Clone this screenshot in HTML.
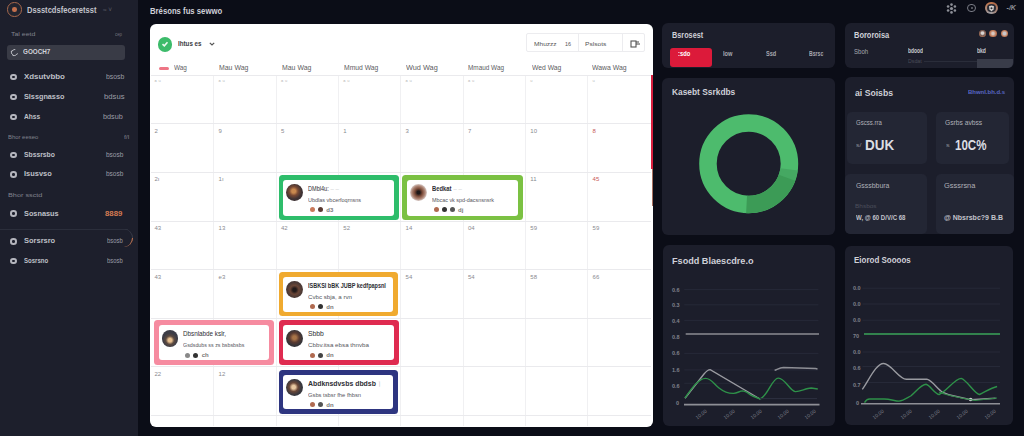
<!DOCTYPE html>
<html><head><meta charset="utf-8">
<style>
*{margin:0;padding:0;box-sizing:border-box}
html,body{width:1024px;height:436px;overflow:hidden;background:#0b0d17;font-family:"Liberation Sans",sans-serif;position:relative}
.a{position:absolute}
.t{position:absolute;white-space:nowrap;line-height:10px;height:10px;transform-origin:0 50%;display:inline-block}
</style></head><body>
<div class="a" style="left:0.0px;top:0.0px;width:138.0px;height:436.0px;background:#1d1f2c;border-radius:0px;"></div>
<div class="a" style="left:7.2px;top:2.4px;width:14.4px;height:14.4px;border-radius:50%;background:#22242f;border:1.3px solid #a8684c;box-sizing:border-box"></div>
<div class="a" style="left:12.1px;top:7.3px;width:4.6px;height:4.6px;border-radius:50%;background:#c26f4c;"></div>
<span id="t0" class="t" style="left:27.3px;top:4.8px;font-size:8.5px;color:#c2c3cb;font-weight:bold;transform:scaleX(0.891);">Dssstcdsfeceretsst</span>
<span id="t1" class="t" style="left:103.0px;top:4.6px;font-size:6.5px;color:#5a5c66;font-weight:normal;">≈ ˅</span>
<span id="t2" class="t" style="left:11.2px;top:29.0px;font-size:6px;color:#80828c;font-weight:normal;transform:scaleX(1.162);">Tal eetd</span>
<span id="t3" class="t" style="left:114.8px;top:29.0px;font-size:6px;color:#70727c;font-weight:normal;transform:scaleX(0.720);">cep</span>
<div class="a" style="left:6.7px;top:45.0px;width:118.8px;height:14.7px;background:#393b46;border-radius:3px;"></div>
<div class="a" style="left:10.8px;top:48.8px;width:7.2px;height:7.2px;border-radius:50%;border:1.4px solid #b8b9c0;border-right-color:transparent;transform:rotate(-30deg)"></div>
<span id="t4" class="t" style="left:23.0px;top:47.3px;font-size:7px;color:#d2d3da;font-weight:bold;transform:scaleX(0.900);">GOOCH7</span>
<div class="a" style="left:10.4px;top:73.6px;width:6.6px;height:6.6px;border-radius:50%;border:2.1px solid #b4b5bd"></div>
<span id="t5" class="t" style="left:23.5px;top:71.9px;font-size:7px;color:#bfc0c8;font-weight:bold;transform:scaleX(1.131);">Xdsutvbbo</span>
<span id="t6" class="t" style="left:106.0px;top:71.9px;font-size:6.5px;color:#9a9ca5;font-weight:normal;transform:scaleX(1.059);">bsosb</span>
<div class="a" style="left:10.4px;top:93.9px;width:6.6px;height:6.6px;border-radius:50%;border:2.1px solid #b4b5bd"></div>
<span id="t7" class="t" style="left:23.5px;top:92.2px;font-size:7px;color:#bfc0c8;font-weight:bold;transform:scaleX(1.038);">Slssgnasso</span>
<span id="t8" class="t" style="left:103.5px;top:92.2px;font-size:6.5px;color:#9a9ca5;font-weight:normal;transform:scaleX(1.182);">bdsus</span>
<div class="a" style="left:10.4px;top:113.7px;width:6.6px;height:6.6px;border-radius:50%;border:2.1px solid #b4b5bd"></div>
<span id="t9" class="t" style="left:23.5px;top:112.0px;font-size:7px;color:#bfc0c8;font-weight:bold;transform:scaleX(0.941);">Ahss</span>
<span id="t10" class="t" style="left:103.0px;top:112.0px;font-size:6.5px;color:#9a9ca5;font-weight:normal;transform:scaleX(1.111);">bdsub</span>
<span id="t11" class="t" style="left:8.0px;top:131.6px;font-size:6px;color:#80828c;font-weight:normal;transform:scaleX(0.984);">Bhor eeseo</span>
<span id="t12" class="t" style="left:124.4px;top:131.6px;font-size:6px;color:#80828c;font-weight:normal;transform:scaleX(1.120);">f/l</span>
<div class="a" style="left:10.4px;top:151.7px;width:6.6px;height:6.6px;border-radius:50%;border:2.1px solid #b4b5bd"></div>
<span id="t13" class="t" style="left:23.5px;top:150.0px;font-size:7px;color:#bfc0c8;font-weight:bold;transform:scaleX(0.969);">Sbssrsbo</span>
<span id="t14" class="t" style="left:106.0px;top:150.0px;font-size:6.5px;color:#9a9ca5;font-weight:normal;">bsosb</span>
<div class="a" style="left:10.4px;top:171.1px;width:6.6px;height:6.6px;border-radius:50%;border:2.1px solid #b4b5bd"></div>
<span id="t15" class="t" style="left:23.5px;top:169.4px;font-size:7px;color:#bfc0c8;font-weight:bold;transform:scaleX(1.065);">Isusvso</span>
<span id="t16" class="t" style="left:106.0px;top:169.4px;font-size:6.5px;color:#9a9ca5;font-weight:normal;">bsosb</span>
<span id="t17" class="t" style="left:8.0px;top:190.3px;font-size:6px;color:#80828c;font-weight:normal;transform:scaleX(1.214);">Bhor ssctd</span>
<div class="a" style="left:10.4px;top:210.3px;width:6.6px;height:6.6px;border-radius:50%;border:2.1px solid #b4b5bd"></div>
<span id="t18" class="t" style="left:23.5px;top:208.6px;font-size:7px;color:#bfc0c8;font-weight:bold;transform:scaleX(1.045);">Sosnasus</span>
<span id="t19" class="t" style="left:105.0px;top:208.6px;font-size:6.5px;color:#d47a52;font-weight:bold;transform:scaleX(1.200);">8889</span>
<div class="a" style="left:0.0px;top:229.0px;width:128.0px;height:1.0px;background:#2b2e3b;border-radius:0px;"></div>
<div class="a" style="left:122px;top:229px;width:11px;height:18px;border-right:1.3px solid #3a3d4a;border-bottom:0;border-radius:0 9px 9px 0"></div>
<div class="a" style="left:122px;top:229px;width:11px;height:18px;border-right:1.3px solid #c8744c;border-radius:0 9px 9px 0;clip-path:inset(50% 0 0 0)"></div>
<div class="a" style="left:10.4px;top:238.1px;width:6.6px;height:6.6px;border-radius:50%;border:2.1px solid #b4b5bd"></div>
<span id="t20" class="t" style="left:23.5px;top:236.4px;font-size:7px;color:#bfc0c8;font-weight:bold;transform:scaleX(1.069);">Sorsrsro</span>
<span id="t21" class="t" style="left:106.6px;top:236.4px;font-size:6.5px;color:#9a9ca5;font-weight:normal;transform:scaleX(0.906);">bsosb</span>
<div class="a" style="left:10.4px;top:257.6px;width:6.6px;height:6.6px;border-radius:50%;border:2.1px solid #b4b5bd"></div>
<span id="t22" class="t" style="left:23.5px;top:255.9px;font-size:7px;color:#bfc0c8;font-weight:bold;transform:scaleX(0.864);">Sosrsno</span>
<span id="t23" class="t" style="left:106.6px;top:255.9px;font-size:6.5px;color:#9a9ca5;font-weight:normal;transform:scaleX(0.906);">bsosb</span>
<span id="t24" class="t" style="left:150.1px;top:5.6px;font-size:8.5px;color:#cfd0d7;font-weight:bold;transform:scaleX(0.909);">Brésons fus sewwo</span>
<svg class="a" style="left:946px;top:2.5px" width="11" height="11" viewBox="0 0 11 11"><g fill="#8e9098"><circle cx="5.5" cy="5.5" r="1.6"/><circle cx="5.5" cy="1.6" r="1.3"/><circle cx="5.5" cy="9.4" r="1.3"/><circle cx="2.1" cy="3.5" r="1.3"/><circle cx="8.9" cy="3.5" r="1.3"/><circle cx="2.1" cy="7.5" r="1.3"/><circle cx="8.9" cy="7.5" r="1.3"/></g></svg>
<div class="a" style="left:967.0px;top:3.7px;width:8.6px;height:8.6px;border-radius:50%;background:transparent;border:1.3px solid #7a7c86;box-sizing:border-box"></div>
<div class="a" style="left:970.5px;top:6.7px;width:2.2px;height:2.2px;border-radius:50%;background:#6a6c76;"></div>
<div class="a" style="left:985.4px;top:1.7px;width:12.6px;height:12.6px;border-radius:50%;background:conic-gradient(from 200deg,#9c9ca2,#c47a52 120deg,#b06a48 200deg,#9c9ca2 360deg);"></div>
<div class="a" style="left:987.3px;top:3.6px;width:8.8px;height:8.8px;border-radius:50%;background:#2c2d36;"></div>
<svg class="a" style="left:988.2px;top:4.6px" width="7" height="7" viewBox="0 0 7 7"><path d="M1 1.2 L3.5 0.6 L6 1.2 L5.6 4.2 L3.5 6.4 L1.4 4.2 Z" fill="#d6d3d0"/><circle cx="3.5" cy="3.2" r="1" fill="#2c2d36"/></svg>
<span id="t25" class="t" style="left:1006.6px;top:3.3px;font-size:7px;color:#8e9098;font-weight:bold;font-style:italic;">-/K</span>
<div class="a" style="left:149.5px;top:24.0px;width:503.8px;height:403.0px;background:#ffffff;border-radius:6px;"></div>
<div class="a" style="left:158.1px;top:37.2px;width:14.4px;height:14.4px;border-radius:50%;background:#3cbb6a;"></div>
<svg class="a" style="left:161.3px;top:40.4px" width="8" height="8" viewBox="0 0 8 8"><path d="M1.5 4.2 L3.3 5.8 L6.5 2.3" stroke="#ecf9f0" stroke-width="1.6" fill="none"/></svg>
<span id="t26" class="t" style="left:177.7px;top:39.4px;font-size:8px;color:#3b3b40;font-weight:bold;transform:scaleX(0.777);">Ihtus es</span>
<svg class="a" style="left:208.5px;top:42px" width="6" height="4" viewBox="0 0 6 4"><path d="M0.8 0.8 L3 3 L5.2 0.8" stroke="#555" stroke-width="1.2" fill="none"/></svg>
<div class="a" style="left:526px;top:33.2px;width:118.6px;height:18.8px;border:1px solid #ececef;border-radius:2px"></div>
<div class="a" style="left:578.0px;top:33.2px;width:1.0px;height:18.8px;background:#ececef;border-radius:0px;"></div>
<div class="a" style="left:621.5px;top:33.2px;width:1.0px;height:18.8px;background:#ececef;border-radius:0px;"></div>
<span id="t27" class="t" style="left:533.6px;top:38.5px;font-size:6px;color:#555;font-weight:normal;transform:scaleX(1.095);">Mhuzzz</span>
<span id="t28" class="t" style="left:564.7px;top:38.5px;font-size:6px;color:#555;font-weight:normal;transform:scaleX(0.900);">16</span>
<span id="t29" class="t" style="left:585.0px;top:38.5px;font-size:6px;color:#555;font-weight:normal;transform:scaleX(1.105);">Pslsots</span>
<svg class="a" style="left:629.5px;top:39.5px" width="11" height="8" viewBox="0 0 11 8"><g stroke="#555" stroke-width="1.1" fill="none"><rect x="1" y="1" width="5" height="6"/><line x1="6" y1="4" x2="10" y2="4"/><line x1="6" y1="2" x2="9" y2="2"/></g></svg>
<div class="a" style="left:213.1px;top:75.2px;width:1.0px;height:350.8px;background:#f0f0f2;border-radius:0px;"></div>
<div class="a" style="left:275.5px;top:75.2px;width:1.0px;height:350.8px;background:#f0f0f2;border-radius:0px;"></div>
<div class="a" style="left:337.8px;top:75.2px;width:1.0px;height:350.8px;background:#f0f0f2;border-radius:0px;"></div>
<div class="a" style="left:400.1px;top:75.2px;width:1.0px;height:350.8px;background:#f0f0f2;border-radius:0px;"></div>
<div class="a" style="left:462.5px;top:75.2px;width:1.0px;height:350.8px;background:#f0f0f2;border-radius:0px;"></div>
<div class="a" style="left:524.8px;top:75.2px;width:1.0px;height:350.8px;background:#f0f0f2;border-radius:0px;"></div>
<div class="a" style="left:587.1px;top:75.2px;width:1.0px;height:350.8px;background:#f0f0f2;border-radius:0px;"></div>
<div class="a" style="left:150.5px;top:74.7px;width:500.5px;height:1.0px;background:#eaeaed;border-radius:0px;"></div>
<div class="a" style="left:150.5px;top:123.3px;width:500.5px;height:1.0px;background:#eaeaed;border-radius:0px;"></div>
<div class="a" style="left:150.5px;top:171.9px;width:500.5px;height:1.0px;background:#eaeaed;border-radius:0px;"></div>
<div class="a" style="left:150.5px;top:220.5px;width:500.5px;height:1.0px;background:#eaeaed;border-radius:0px;"></div>
<div class="a" style="left:150.5px;top:269.1px;width:500.5px;height:1.0px;background:#eaeaed;border-radius:0px;"></div>
<div class="a" style="left:150.5px;top:317.7px;width:500.5px;height:1.0px;background:#eaeaed;border-radius:0px;"></div>
<div class="a" style="left:150.5px;top:366.3px;width:500.5px;height:1.0px;background:#eaeaed;border-radius:0px;"></div>
<div class="a" style="left:150.5px;top:414.9px;width:500.5px;height:1.0px;background:#eaeaed;border-radius:0px;"></div>
<div class="a" style="left:159.0px;top:67.0px;width:10.0px;height:3.0px;background:#ee7585;border-radius:1.5px;"></div>
<span id="t30" class="t" style="left:174.3px;top:63.4px;font-size:6.5px;color:#5c5c62;font-weight:normal;transform:scaleX(0.985);">Wag</span>
<span id="t31" class="t" style="left:219.0px;top:63.4px;font-size:6.5px;color:#5c5c62;font-weight:normal;transform:scaleX(1.064);">Mau Wag</span>
<span id="t32" class="t" style="left:281.6px;top:63.4px;font-size:6.5px;color:#5c5c62;font-weight:normal;transform:scaleX(1.064);">Mau Wag</span>
<span id="t33" class="t" style="left:343.6px;top:63.4px;font-size:6.5px;color:#5c5c62;font-weight:normal;transform:scaleX(1.039);">Mmud Wag</span>
<span id="t34" class="t" style="left:406.0px;top:63.4px;font-size:6.5px;color:#5c5c62;font-weight:normal;transform:scaleX(1.125);">Wud Wag</span>
<span id="t35" class="t" style="left:468.0px;top:63.4px;font-size:6.5px;color:#5c5c62;font-weight:normal;transform:scaleX(0.984);">Mmaud Wag</span>
<span id="t36" class="t" style="left:531.8px;top:63.4px;font-size:6.5px;color:#5c5c62;font-weight:normal;transform:scaleX(1.043);">Wed Wag</span>
<span id="t37" class="t" style="left:592.3px;top:63.4px;font-size:6.5px;color:#5c5c62;font-weight:normal;transform:scaleX(1.058);">Wawa Wag</span>
<span id="t38" class="t" style="left:154.5px;top:77.2px;font-size:6px;color:#bbb;font-weight:normal;">ᵃ ᵘ</span>
<span id="t39" class="t" style="left:218.6px;top:77.2px;font-size:6px;color:#bbb;font-weight:normal;">ᵃ ᵘ</span>
<span id="t40" class="t" style="left:281.0px;top:77.2px;font-size:6px;color:#bbb;font-weight:normal;">ᵃ ᵘ</span>
<span id="t41" class="t" style="left:343.3px;top:77.2px;font-size:6px;color:#bbb;font-weight:normal;">ᵃ ᵘ</span>
<span id="t42" class="t" style="left:405.6px;top:77.2px;font-size:6px;color:#bbb;font-weight:normal;">ᵃ ᵘ</span>
<span id="t43" class="t" style="left:468.0px;top:77.2px;font-size:6px;color:#bbb;font-weight:normal;">ᵃ ᵘ</span>
<span id="t44" class="t" style="left:530.3px;top:77.2px;font-size:6px;color:#bbb;font-weight:normal;">ᵘ</span>
<span id="t45" class="t" style="left:592.6px;top:77.2px;font-size:6px;color:#bbb;font-weight:normal;">ᵘ</span>
<span id="t46" class="t" style="left:154.5px;top:125.8px;font-size:6px;color:#8a8a90;font-weight:normal;">2</span>
<span id="t47" class="t" style="left:218.6px;top:125.8px;font-size:6px;color:#8a8a90;font-weight:normal;">9</span>
<span id="t48" class="t" style="left:281.0px;top:125.8px;font-size:6px;color:#8a8a90;font-weight:normal;">5</span>
<span id="t49" class="t" style="left:343.3px;top:125.8px;font-size:6px;color:#8a8a90;font-weight:normal;">1</span>
<span id="t50" class="t" style="left:405.6px;top:125.8px;font-size:6px;color:#8a8a90;font-weight:normal;">3</span>
<span id="t51" class="t" style="left:468.0px;top:125.8px;font-size:6px;color:#8a8a90;font-weight:normal;">7</span>
<span id="t52" class="t" style="left:530.3px;top:125.8px;font-size:6px;color:#8a8a90;font-weight:normal;">10</span>
<span id="t53" class="t" style="left:592.6px;top:125.8px;font-size:6px;color:#c85a5a;font-weight:normal;">8</span>
<span id="t54" class="t" style="left:154.5px;top:174.4px;font-size:6px;color:#8a8a90;font-weight:normal;">2ı</span>
<span id="t55" class="t" style="left:218.6px;top:174.4px;font-size:6px;color:#8a8a90;font-weight:normal;">1ı</span>
<span id="t56" class="t" style="left:530.3px;top:174.4px;font-size:6px;color:#8a8a90;font-weight:normal;">11</span>
<span id="t57" class="t" style="left:592.6px;top:174.4px;font-size:6px;color:#c85a5a;font-weight:normal;">45</span>
<span id="t58" class="t" style="left:154.5px;top:223.0px;font-size:6px;color:#8a8a90;font-weight:normal;">43</span>
<span id="t59" class="t" style="left:218.6px;top:223.0px;font-size:6px;color:#8a8a90;font-weight:normal;">13</span>
<span id="t60" class="t" style="left:281.0px;top:223.0px;font-size:6px;color:#8a8a90;font-weight:normal;">42</span>
<span id="t61" class="t" style="left:343.3px;top:223.0px;font-size:6px;color:#8a8a90;font-weight:normal;">52</span>
<span id="t62" class="t" style="left:405.6px;top:223.0px;font-size:6px;color:#8a8a90;font-weight:normal;">14</span>
<span id="t63" class="t" style="left:468.0px;top:223.0px;font-size:6px;color:#8a8a90;font-weight:normal;">04</span>
<span id="t64" class="t" style="left:530.3px;top:223.0px;font-size:6px;color:#8a8a90;font-weight:normal;">59</span>
<span id="t65" class="t" style="left:592.6px;top:223.0px;font-size:6px;color:#8a8a90;font-weight:normal;">59</span>
<span id="t66" class="t" style="left:154.5px;top:271.6px;font-size:6px;color:#8a8a90;font-weight:normal;">43</span>
<span id="t67" class="t" style="left:218.6px;top:271.6px;font-size:6px;color:#8a8a90;font-weight:normal;">e3</span>
<span id="t68" class="t" style="left:405.6px;top:271.6px;font-size:6px;color:#8a8a90;font-weight:normal;">54</span>
<span id="t69" class="t" style="left:468.0px;top:271.6px;font-size:6px;color:#8a8a90;font-weight:normal;">54</span>
<span id="t70" class="t" style="left:530.3px;top:271.6px;font-size:6px;color:#8a8a90;font-weight:normal;">58</span>
<span id="t71" class="t" style="left:592.6px;top:271.6px;font-size:6px;color:#8a8a90;font-weight:normal;">66</span>
<span id="t72" class="t" style="left:154.5px;top:368.8px;font-size:6px;color:#8a8a90;font-weight:normal;">22</span>
<span id="t73" class="t" style="left:218.6px;top:368.8px;font-size:6px;color:#8a8a90;font-weight:normal;">12</span>
<div class="a" style="left:651.3px;top:75.2px;width:2.2px;height:93.8px;background:#d81f3f;border-radius:0px;"></div>
<div class="a" style="left:652.2px;top:169.0px;width:1.2px;height:37.0px;background:#a87060;border-radius:0px;"></div>
<div class="a" style="left:278.5px;top:174.6px;width:120.1px;height:45.6px;background:#2ebd6b;border-radius:3.5px;"></div>
<div class="a" style="left:283.3px;top:179.7px;width:110.5px;height:36.0px;background:#ffffff;border-radius:3px;"></div>
<div class="a" style="left:286.3px;top:184.3px;width:16.8px;height:16.8px;border-radius:50%;background:radial-gradient(circle at 45% 42%,#c8884e 0 14%,#7a4a34 32%,#3e3234 58%);"></div>
<span id="t74" class="t" style="left:307.8px;top:183.6px;font-size:7px;color:#2e2e34;font-weight:normal;transform:scaleX(0.796);">DMbl4u:</span>
<span id="t75" class="t" style="left:330.5px;top:183.6px;font-size:6px;color:#c4c4c8;font-weight:normal;"> – –</span>
<span id="t76" class="t" style="left:307.8px;top:194.6px;font-size:6px;color:#55555c;font-weight:normal;transform:scaleX(0.914);">Ubdlas vbcerfoqrnsns</span>
<div class="a" style="left:309.7px;top:207.0px;width:5.2px;height:5.2px;border-radius:50%;background:#c9795a;"></div>
<div class="a" style="left:317.7px;top:207.0px;width:5.2px;height:5.2px;border-radius:50%;background:#5a3a32;"></div>
<span id="t77" class="t" style="left:326.3px;top:204.6px;font-size:6px;color:#777;font-weight:bold;">d3</span>
<div class="a" style="left:402.3px;top:174.6px;width:120.7px;height:45.7px;background:#7bc143;border-radius:3.5px;"></div>
<div class="a" style="left:407.1px;top:179.7px;width:111.1px;height:36.1px;background:#ffffff;border-radius:3px;"></div>
<div class="a" style="left:410.1px;top:184.3px;width:16.8px;height:16.8px;border-radius:50%;background:radial-gradient(circle at 50% 50%,#1e1818 0 12%,#7a4a38 32%,#b08878 55%,#dcd2d0 72%);"></div>
<span id="t78" class="t" style="left:431.6px;top:183.6px;font-size:7px;color:#2e2e34;font-weight:bold;transform:scaleX(0.833);">Bedkat</span>
<span id="t79" class="t" style="left:453.6px;top:183.6px;font-size:6px;color:#c4c4c8;font-weight:normal;"> – –</span>
<span id="t80" class="t" style="left:431.6px;top:194.6px;font-size:6px;color:#55555c;font-weight:normal;transform:scaleX(0.899);">Mbcac vk spd-dacsnsnsrk</span>
<div class="a" style="left:433.5px;top:207.0px;width:5.2px;height:5.2px;border-radius:50%;background:#b06a50;"></div>
<div class="a" style="left:441.5px;top:207.0px;width:5.2px;height:5.2px;border-radius:50%;background:#333;"></div>
<div class="a" style="left:449.5px;top:207.0px;width:5.2px;height:5.2px;border-radius:50%;background:#555;"></div>
<span id="t81" class="t" style="left:458.1px;top:204.6px;font-size:6px;color:#777;font-weight:bold;">dj</span>
<div class="a" style="left:278.5px;top:271.6px;width:119.5px;height:44.7px;background:#f0aa2f;border-radius:3.5px;"></div>
<div class="a" style="left:283.3px;top:276.7px;width:109.9px;height:35.1px;background:#ffffff;border-radius:3px;"></div>
<div class="a" style="left:286.3px;top:281.3px;width:16.8px;height:16.8px;border-radius:50%;background:radial-gradient(circle at 50% 52%,#221a1a 0 14%,#6a4536 36%,#4c3a36 60%);"></div>
<span id="t82" class="t" style="left:307.8px;top:280.6px;font-size:7px;color:#2e2e34;font-weight:bold;transform:scaleX(0.786);">ISBKSI bBK JUBP kedfpapsnl</span>
<span id="t83" class="t" style="left:307.8px;top:291.6px;font-size:6px;color:#55555c;font-weight:normal;transform:scaleX(1.023);">Cvbc  sbja, a rvn</span>
<div class="a" style="left:309.7px;top:304.0px;width:5.2px;height:5.2px;border-radius:50%;background:#b06a50;"></div>
<div class="a" style="left:317.7px;top:304.0px;width:5.2px;height:5.2px;border-radius:50%;background:#333;"></div>
<span id="t84" class="t" style="left:326.3px;top:301.6px;font-size:6px;color:#777;font-weight:bold;">dn</span>
<div class="a" style="left:153.9px;top:320.3px;width:120.4px;height:44.7px;background:#f68ba0;border-radius:3.5px;"></div>
<div class="a" style="left:158.7px;top:325.4px;width:110.8px;height:35.1px;background:#ffffff;border-radius:3px;"></div>
<div class="a" style="left:161.7px;top:330.0px;width:16.8px;height:16.8px;border-radius:50%;background:radial-gradient(circle at 50% 60%,#e8c090 0 14%,#5c4a40 32%,#3c3c46 55%);"></div>
<span id="t85" class="t" style="left:183.2px;top:329.3px;font-size:7px;color:#2e2e34;font-weight:normal;transform:scaleX(0.900);">Dbsnlabde kslr,</span>
<span id="t86" class="t" style="left:183.2px;top:340.3px;font-size:6px;color:#55555c;font-weight:normal;transform:scaleX(0.884);">Gsdsdubs ss zs bsbsbsbs</span>
<div class="a" style="left:185.1px;top:352.7px;width:5.2px;height:5.2px;border-radius:50%;background:#888;"></div>
<div class="a" style="left:193.1px;top:352.7px;width:5.2px;height:5.2px;border-radius:50%;background:#333;"></div>
<span id="t87" class="t" style="left:201.7px;top:350.3px;font-size:6px;color:#777;font-weight:bold;">ch</span>
<div class="a" style="left:278.5px;top:320.3px;width:120.1px;height:44.7px;background:#df2b50;border-radius:3.5px;"></div>
<div class="a" style="left:283.3px;top:325.4px;width:110.5px;height:35.1px;background:#ffffff;border-radius:3px;"></div>
<div class="a" style="left:286.3px;top:330.0px;width:16.8px;height:16.8px;border-radius:50%;background:radial-gradient(circle at 50% 45%,#a87448 0 14%,#5a3a30 38%,#363438 62%);"></div>
<span id="t88" class="t" style="left:307.8px;top:329.3px;font-size:7px;color:#2e2e34;font-weight:normal;transform:scaleX(0.969);">Sbbb</span>
<span id="t89" class="t" style="left:307.8px;top:340.3px;font-size:6px;color:#55555c;font-weight:normal;transform:scaleX(1.034);">Cbbv.itsa ebsa thnvba</span>
<div class="a" style="left:309.7px;top:352.7px;width:5.2px;height:5.2px;border-radius:50%;background:#b06a50;"></div>
<div class="a" style="left:317.7px;top:352.7px;width:5.2px;height:5.2px;border-radius:50%;background:#444;"></div>
<span id="t90" class="t" style="left:326.3px;top:350.3px;font-size:6px;color:#777;font-weight:bold;">dn</span>
<div class="a" style="left:278.5px;top:369.6px;width:119.7px;height:44.4px;background:#2e3580;border-radius:3.5px;"></div>
<div class="a" style="left:283.3px;top:374.7px;width:110.1px;height:34.8px;background:#ffffff;border-radius:3px;"></div>
<div class="a" style="left:286.3px;top:379.3px;width:16.8px;height:16.8px;border-radius:50%;background:radial-gradient(circle at 45% 48%,#e8c8a0 0 14%,#6a4838 34%,#38383e 60%);"></div>
<span id="t91" class="t" style="left:307.8px;top:378.6px;font-size:7px;color:#2e2e34;font-weight:bold;transform:scaleX(0.986);">Abdknsdvsbs dbdsb</span>
<span id="t92" class="t" style="left:377.8px;top:378.6px;font-size:6px;color:#c4c4c8;font-weight:normal;"> ⌉</span>
<span id="t93" class="t" style="left:307.8px;top:389.6px;font-size:6px;color:#55555c;font-weight:normal;transform:scaleX(0.964);">Gsbs tsbsr fhe fhbsn</span>
<div class="a" style="left:309.7px;top:402.0px;width:5.2px;height:5.2px;border-radius:50%;background:#b06a50;"></div>
<div class="a" style="left:317.7px;top:402.0px;width:5.2px;height:5.2px;border-radius:50%;background:#555;"></div>
<span id="t94" class="t" style="left:326.3px;top:399.6px;font-size:6px;color:#777;font-weight:bold;">dn</span>
<div class="a" style="left:662.0px;top:23.0px;width:173.0px;height:45.0px;background:#1c1e2b;border-radius:6px;"></div>
<div class="a" style="left:845.0px;top:23.0px;width:168.8px;height:45.0px;background:#1c1e2b;border-radius:6px;"></div>
<div class="a" style="left:662.0px;top:77.5px;width:173.0px;height:157.0px;background:#1c1e2b;border-radius:6px;"></div>
<div class="a" style="left:845.0px;top:77.3px;width:168.5px;height:156.7px;background:#1c1e2b;border-radius:6px;"></div>
<div class="a" style="left:662.5px;top:245.0px;width:172.5px;height:181.0px;background:#1c1e2b;border-radius:6px;"></div>
<div class="a" style="left:844.5px;top:245.5px;width:168.5px;height:179.5px;background:#1c1e2b;border-radius:6px;"></div>
<span id="t95" class="t" style="left:672.4px;top:30.3px;font-size:9px;color:#cfd0d8;font-weight:bold;transform:scaleX(0.810);">Bsrosest</span>
<div class="a" style="left:670.0px;top:48.2px;width:42.0px;height:19.3px;background:#dc1a3a;border-radius:3px;"></div>
<span id="t96" class="t" style="left:677.5px;top:49.0px;font-size:6.5px;color:#ffffff;font-weight:bold;transform:scaleX(0.893);">:sdo</span>
<span id="t97" class="t" style="left:723.0px;top:48.7px;font-size:6.5px;color:#a6a7af;font-weight:bold;transform:scaleX(0.873);">Iow</span>
<span id="t98" class="t" style="left:765.7px;top:48.7px;font-size:6.5px;color:#a6a7af;font-weight:bold;transform:scaleX(0.858);">Ssd</span>
<span id="t99" class="t" style="left:808.8px;top:48.7px;font-size:6.5px;color:#a6a7af;font-weight:bold;transform:scaleX(0.789);">Bsrsc</span>
<span id="t100" class="t" style="left:854.0px;top:29.8px;font-size:8.5px;color:#cfd0d8;font-weight:bold;transform:scaleX(0.878);">Bororoisa</span>
<div class="a" style="left:978.6px;top:29.9px;width:7.4px;height:7.4px;border-radius:50%;background:radial-gradient(circle at 50% 45%,#d8d4d2 0 22%,#7a5a50 50%,#b87858 75%);"></div>
<div class="a" style="left:989.3px;top:29.9px;width:7.4px;height:7.4px;border-radius:50%;background:radial-gradient(circle at 50% 50%,#d8c8c0 0 20%,#c07a58 55%,#a86448 80%);"></div>
<div class="a" style="left:1001.0px;top:29.9px;width:7.4px;height:7.4px;border-radius:50%;background:radial-gradient(circle at 50% 50%,#c8c8cc 0 25%,#c47c58 60%,#a86a4c 85%);"></div>
<span id="t101" class="t" style="left:854.0px;top:46.6px;font-size:6.5px;color:#a6a7af;font-weight:normal;transform:scaleX(0.933);">Sboh</span>
<span id="t102" class="t" style="left:908.0px;top:46.0px;font-size:6.5px;color:#c8c9d0;font-weight:bold;transform:scaleX(0.750);">bdood</span>
<span id="t103" class="t" style="left:977.0px;top:46.0px;font-size:6.5px;color:#c8c9d0;font-weight:bold;transform:scaleX(0.773);">bkd</span>
<span id="t104" class="t" style="left:908.0px;top:55.8px;font-size:6px;color:#4a4c58;font-weight:normal;transform:scaleX(0.875);">Dsdat</span>
<div class="a" style="left:924.0px;top:60.5px;width:53.0px;height:0.8px;background:#2a2d3a;border-radius:0px;"></div>
<div class="a" style="left:977.0px;top:59.0px;width:36.0px;height:8.5px;background:#393c49;border-radius:0px;border-radius:0 0 5px 0"></div>
<span id="t105" class="t" style="left:671.6px;top:87.3px;font-size:9.5px;color:#cfd0d8;font-weight:bold;transform:scaleX(0.881);">Kasebt Ssrkdbs</span>
<span id="t106" class="t" style="left:854.5px;top:87.5px;font-size:9px;color:#cfd0d8;font-weight:bold;transform:scaleX(0.963);">ai Soisbs</span>
<span id="t107" class="t" style="left:967.6px;top:87.0px;font-size:6px;color:#5866c4;font-weight:bold;transform:scaleX(0.992);">Bhwnl.bh.d.s</span>
<div class="a" style="left:847.0px;top:112.4px;width:80.0px;height:52.1px;background:#232634;border-radius:5px;"></div>
<div class="a" style="left:936.2px;top:112.4px;width:72.8px;height:52.1px;background:#232634;border-radius:5px;"></div>
<div class="a" style="left:845.2px;top:174.0px;width:82.0px;height:60.0px;background:#232634;border-radius:5px;"></div>
<div class="a" style="left:936.0px;top:174.0px;width:77.5px;height:60.0px;background:#232634;border-radius:5px;"></div>
<span id="t108" class="t" style="left:856.3px;top:118.2px;font-size:6.5px;color:#b0b1b9;font-weight:normal;transform:scaleX(0.929);">Gscss.rra</span>
<span id="t109" class="t" style="left:944.6px;top:118.2px;font-size:6.5px;color:#b0b1b9;font-weight:normal;transform:scaleX(1.028);">Gsrbs avbss</span>
<span id="t110" class="t" style="left:856.0px;top:140.0px;font-size:5.5px;color:#8c8e98;font-weight:normal;transform:scaleX(1.250);">s/</span>
<span id="t111" class="t" style="left:865.4px;top:139.5px;font-size:15px;color:#dcdde3;font-weight:bold;transform:scaleX(0.897);">DUK</span>
<span id="t112" class="t" style="left:946.0px;top:140.0px;font-size:5.5px;color:#8c8e98;font-weight:normal;transform:scaleX(1.333);">s</span>
<span id="t113" class="t" style="left:955.4px;top:139.5px;font-size:15px;color:#dcdde3;font-weight:bold;transform:scaleX(0.770);">10C%</span>
<span id="t114" class="t" style="left:855.5px;top:180.8px;font-size:6.5px;color:#b0b1b9;font-weight:normal;transform:scaleX(1.062);">Gsssbbura</span>
<span id="t115" class="t" style="left:944.3px;top:180.8px;font-size:6.5px;color:#b0b1b9;font-weight:normal;transform:scaleX(1.143);">Gsssrsna</span>
<span id="t116" class="t" style="left:855.0px;top:200.8px;font-size:5px;color:#4c4f5c;font-weight:normal;transform:scaleX(1.294);">Bhsbos</span>
<span id="t117" class="t" style="left:855.5px;top:213.2px;font-size:7px;color:#c2c3cb;font-weight:bold;transform:scaleX(0.868);">W, @ 60 D/V/C 68</span>
<span id="t118" class="t" style="left:944.0px;top:213.2px;font-size:7px;color:#c2c3cb;font-weight:bold;">@ Nbsrsbc?9 B.B</span>
<span id="t119" class="t" style="left:672.0px;top:256.0px;font-size:9px;color:#cfd0d8;font-weight:bold;transform:scaleX(1.012);">Fsodd Blaescdre.o</span>
<span id="t120" class="t" style="left:854.3px;top:255.3px;font-size:9px;color:#cfd0d8;font-weight:bold;transform:scaleX(0.886);">Eiorod Soooos</span>
<span id="t121" class="t" style="left:672.0px;top:284.6px;font-size:5.5px;color:#80828c;font-weight:bold;">0.6</span>
<span id="t122" class="t" style="left:672.0px;top:300.0px;font-size:5.5px;color:#80828c;font-weight:bold;">0.3</span>
<span id="t123" class="t" style="left:672.0px;top:316.0px;font-size:5.5px;color:#80828c;font-weight:bold;">0.4</span>
<span id="t124" class="t" style="left:672.0px;top:331.7px;font-size:5.5px;color:#80828c;font-weight:bold;">0.8</span>
<span id="t125" class="t" style="left:672.0px;top:348.4px;font-size:5.5px;color:#80828c;font-weight:bold;">0.6</span>
<span id="t126" class="t" style="left:672.0px;top:365.0px;font-size:5.5px;color:#80828c;font-weight:bold;">1.6</span>
<span id="t127" class="t" style="left:672.0px;top:380.8px;font-size:5.5px;color:#80828c;font-weight:bold;">0.6</span>
<span id="t128" class="t" style="left:676.0px;top:398.0px;font-size:5.5px;color:#80828c;font-weight:bold;">0</span>
<span id="t129" class="t" style="left:853.0px;top:283.2px;font-size:5.5px;color:#80828c;font-weight:bold;">0.0</span>
<span id="t130" class="t" style="left:853.0px;top:299.0px;font-size:5.5px;color:#80828c;font-weight:bold;">0.0</span>
<span id="t131" class="t" style="left:853.0px;top:315.2px;font-size:5.5px;color:#80828c;font-weight:bold;">0.0</span>
<span id="t132" class="t" style="left:853.0px;top:330.7px;font-size:5.5px;color:#80828c;font-weight:bold;">70</span>
<span id="t133" class="t" style="left:853.0px;top:347.0px;font-size:5.5px;color:#80828c;font-weight:bold;">0.0</span>
<span id="t134" class="t" style="left:853.0px;top:362.9px;font-size:5.5px;color:#80828c;font-weight:bold;">0.6</span>
<span id="t135" class="t" style="left:853.0px;top:380.4px;font-size:5.5px;color:#80828c;font-weight:bold;">0.7</span>
<span id="t136" class="t" style="left:856.0px;top:398.0px;font-size:5.5px;color:#80828c;font-weight:bold;">0</span>
<span class="t" style="left:694.0px;top:409.2px;width:14px;text-align:center;font-size:5px;color:#80828c;transform-origin:50% 50%;transform:rotate(-38deg)">10.00</span>
<span class="t" style="left:722.0px;top:409.2px;width:14px;text-align:center;font-size:5px;color:#80828c;transform-origin:50% 50%;transform:rotate(-38deg)">10.00</span>
<span class="t" style="left:748.5px;top:409.2px;width:14px;text-align:center;font-size:5px;color:#80828c;transform-origin:50% 50%;transform:rotate(-38deg)">10.00</span>
<span class="t" style="left:776.4px;top:409.2px;width:14px;text-align:center;font-size:5px;color:#80828c;transform-origin:50% 50%;transform:rotate(-38deg)">10.00</span>
<span class="t" style="left:803.2px;top:409.2px;width:14px;text-align:center;font-size:5px;color:#80828c;transform-origin:50% 50%;transform:rotate(-38deg)">10.00</span>
<span class="t" style="left:871.0px;top:409.2px;width:14px;text-align:center;font-size:5px;color:#80828c;transform-origin:50% 50%;transform:rotate(-38deg)">10.00</span>
<span class="t" style="left:899.0px;top:409.2px;width:14px;text-align:center;font-size:5px;color:#80828c;transform-origin:50% 50%;transform:rotate(-38deg)">10.00</span>
<span class="t" style="left:927.0px;top:409.2px;width:14px;text-align:center;font-size:5px;color:#80828c;transform-origin:50% 50%;transform:rotate(-38deg)">10.00</span>
<span class="t" style="left:955.0px;top:409.2px;width:14px;text-align:center;font-size:5px;color:#80828c;transform-origin:50% 50%;transform:rotate(-38deg)">10.00</span>
<span class="t" style="left:983.0px;top:409.2px;width:14px;text-align:center;font-size:5px;color:#80828c;transform-origin:50% 50%;transform:rotate(-38deg)">10.00</span>
<svg class="a" style="left:0;top:0" width="1024" height="436" viewBox="0 0 1024 436">
<circle cx="748.7" cy="163.7" r="40.75" fill="none" stroke="#4dbb6d" stroke-width="17.5"/>
<path d="M789.05,169.37 A40.75,40.75 0 0 1 786.48,178.97" fill="none" stroke="#45a862" stroke-width="17.5"/>
<path d="M786.99,177.64 A40.75,40.75 0 0 1 746.57,204.39" fill="none" stroke="#3c9b56" stroke-width="17.5"/>
<line x1="684.3" y1="289.6" x2="818.4" y2="289.6" stroke="#262938" stroke-width="1"/>
<line x1="684.3" y1="304.8" x2="818.4" y2="304.8" stroke="#262938" stroke-width="1"/>
<line x1="684.3" y1="320.4" x2="818.4" y2="320.4" stroke="#262938" stroke-width="1"/>
<line x1="684.3" y1="353.4" x2="818.4" y2="353.4" stroke="#262938" stroke-width="1"/>
<line x1="684.3" y1="369.9" x2="818.4" y2="369.9" stroke="#262938" stroke-width="1"/>
<line x1="684.3" y1="383.3" x2="818.4" y2="383.3" stroke="#262938" stroke-width="1"/>
<line x1="685.7" y1="334" x2="819" y2="334" stroke="#8b8c93" stroke-width="1.5"/>
<line x1="684" y1="404.6" x2="819.5" y2="404.6" stroke="#8e8f96" stroke-width="1.6"/>
<path d="M685,398.2 L704,374 C706,371.5 708,369.6 710.2,369.6 L760,399" fill="none" stroke="#9a9ba1" stroke-width="1.4"/>
<path d="M774.6,370.4 C778,369 780,367.5 783.4,367.5 L815.6,368.5 L817.5,369" fill="none" stroke="#8d8e95" stroke-width="1.5"/>
<path d="M685,398 C692,388 699,378 705.8,378.4 C711,378.5 714,384 719,388 C724,392 729,393.5 733.6,393.4 C737,393.3 740,390.9 742.4,390.9 C746,391 749,394 752.6,396 L760,399 C768,396 772,378 778.3,378.1 C785,378 790,391 795.1,391.6 C800,392 806,388 811.2,388 L817.8,389" fill="none" stroke="#2e9149" stroke-width="1.4"/>
<line x1="760" y1="398.6" x2="817" y2="398.6" stroke="#2e3140" stroke-width="1"/>
<line x1="862.5" y1="288.2" x2="1000" y2="288.2" stroke="#262938" stroke-width="1"/>
<line x1="862.5" y1="304" x2="1000" y2="304" stroke="#262938" stroke-width="1"/>
<line x1="862.5" y1="320.2" x2="1000" y2="320.2" stroke="#262938" stroke-width="1"/>
<line x1="862.5" y1="352" x2="1000" y2="352" stroke="#262938" stroke-width="1"/>
<line x1="862.5" y1="366.5" x2="1000" y2="366.5" stroke="#262938" stroke-width="1"/>
<line x1="862.5" y1="382.5" x2="1000" y2="382.5" stroke="#262938" stroke-width="1"/>
<line x1="864" y1="334" x2="1000" y2="334" stroke="#3aa55a" stroke-width="1.5"/>
<line x1="861" y1="403.8" x2="1000" y2="403.8" stroke="#8e8f96" stroke-width="1.6"/>
<path d="M862.3,389.4 C869,380 876,363.5 883.6,363.5 C891,363.5 899,379.2 906.3,379.2 L926.8,379.2 C933,381 937,389 942.9,392.4 C948,395 952,396 957.5,396.7 L970.7,399.7 L995.6,398.2" fill="none" stroke="#9a9ba1" stroke-width="1.4"/>
<circle cx="970.7" cy="399.5" r="1.8" fill="#d0d0d4"/>
<path d="M864.5,402.6 C866,400 867,399 869.6,399 L884.3,399 C890,399 895,401 899,401.1 C903,401 907,398 910.7,396 C916,392 921,384.3 926,384.3 C930,385 935,394.5 939.2,394.5 C946,392 955,378.4 961.2,378.4 C967,380 975,394.5 979.5,394.5 C985,392 991,388 997.1,386.5" fill="none" stroke="#2e9149" stroke-width="1.4"/>
<path d="M939,392 C946,395 955,397 975,400.5 L997,398" fill="none" stroke="#2f8a48" stroke-width="1.1"/>
</svg>
</body></html>
